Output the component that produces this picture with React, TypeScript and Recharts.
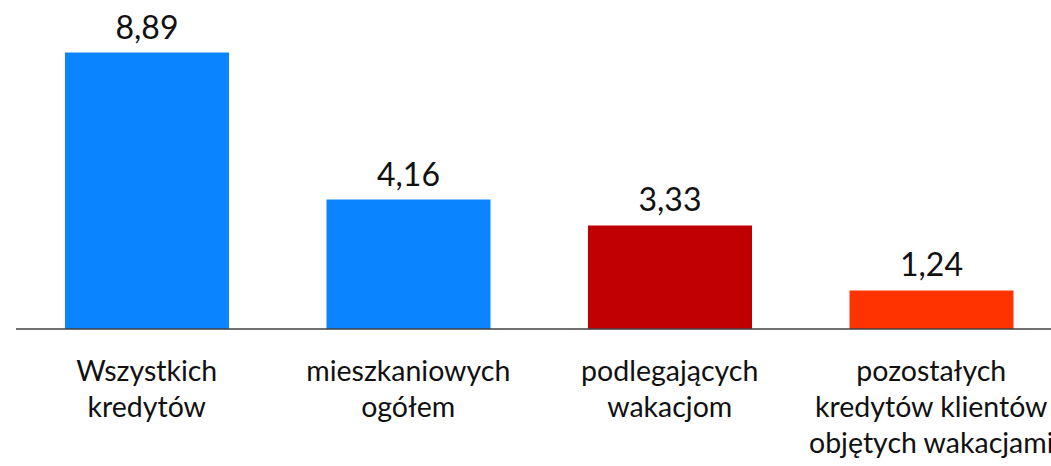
import React from "react";
import { BarChart, Bar, XAxis, YAxis, Cell, LabelList } from "recharts";

const categories = [
  "Wszystkich\nkredytów",
  "mieszkaniowych\nogółem",
  "podlegających\nwakacjom",
  "pozostałych\nkredytów klientów\nobjętych wakacjami",
];
const values = [8.89, 4.16, 3.33, 1.24];
const colors = ["#0A84FF", "#0A84FF", "#C00000", "#FF3300"];

const data = categories.map((c, i) => ({ name: c, value: values[i] }));

const FONT = "Lato, 'Open Sans', sans-serif";

const Tick = (props: any) => {
  const { x, y, payload } = props;
  const lines = String(payload.value).split("\n");
  return (
    <g transform={`translate(${x},${y})`}>
      <text textAnchor="middle" fill="#111" fontFamily={FONT} fontSize={28.5}>
        {lines.map((l: string, i: number) => (
          <tspan key={i} x={0} y={44 + i * 36}>
            {l}
          </tspan>
        ))}
      </text>
    </g>
  );
};

const fmt = (v: any) => Number(v).toFixed(2).replace(".", ",");

export default function App() {
  return (
    <div
      style={{
        position: "absolute",
        left: 0,
        top: 0,
        width: 1051,
        height: 466,
        overflow: "hidden",
        background: "#fff",
      }}
    >
      <BarChart
        width={1062}
        height={466}
        data={data}
        margin={{ top: 18, right: 0, bottom: 0, left: 16 }}
        barSize={164}
      >
        <XAxis
          dataKey="name"
          interval={0}
          tickLine={false}
          axisLine={{ stroke: "#404040", strokeWidth: 1.3 }}
          height={137}
          tick={<Tick />}
        />
        <YAxis hide domain={[0, 10]} />
        <Bar dataKey="value" isAnimationActive={false}>
          {data.map((d, i) => (
            <Cell key={i} fill={colors[i]} />
          ))}
          <LabelList
            dataKey="value"
            position="top"
            offset={14}
            formatter={fmt}
            fill="#111"
            fontFamily={FONT}
            fontSize={32}
          />
        </Bar>
      </BarChart>
    </div>
  );
}
